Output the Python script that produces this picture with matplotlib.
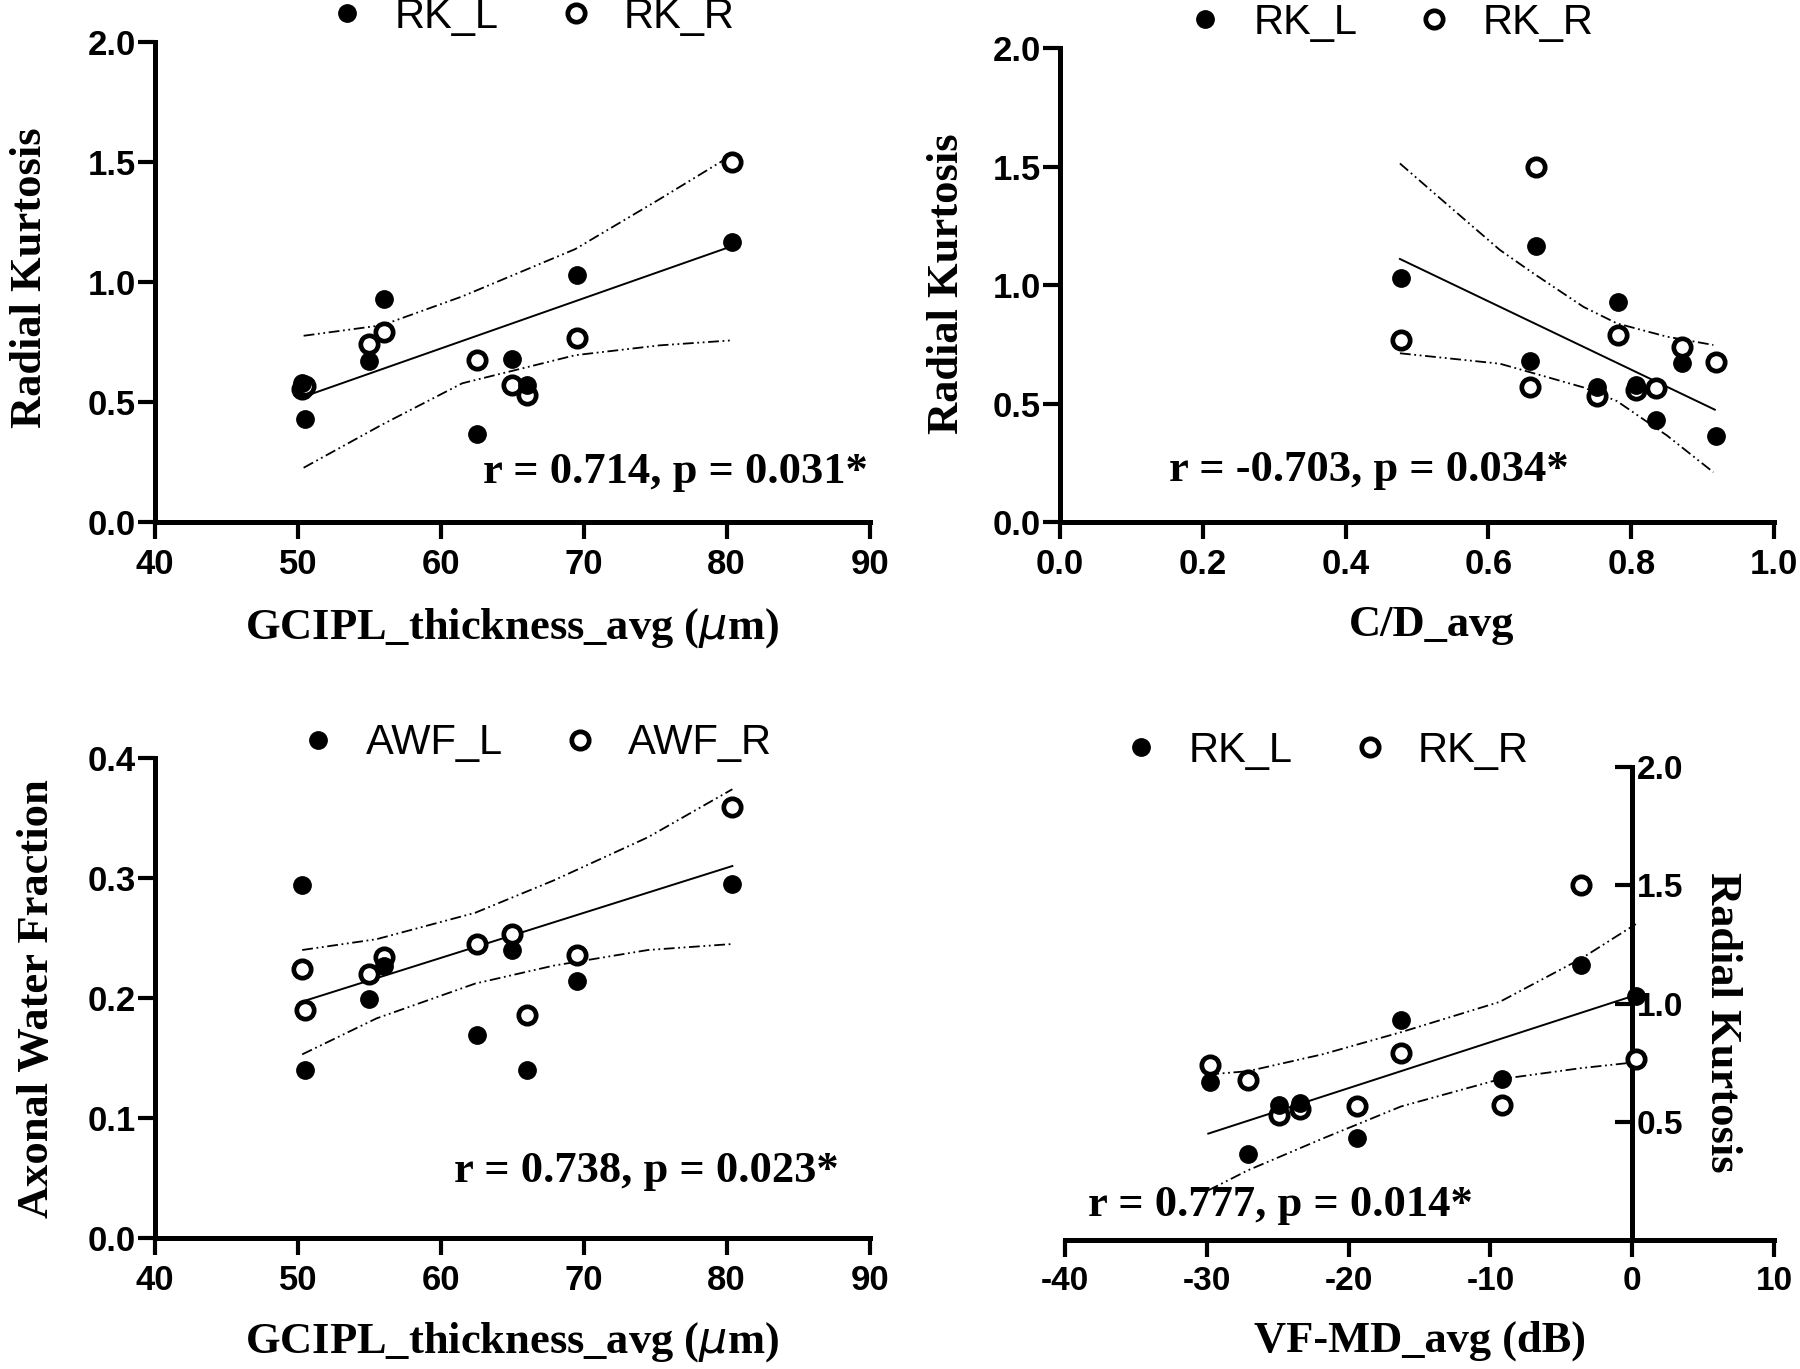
import numpy as np
import matplotlib
matplotlib.use("Agg")
import matplotlib.pyplot as plt
from matplotlib import font_manager
from matplotlib.font_manager import FontProperties

# subjects A..I, same order in every panel
gcipl = [80.4, 69.5, 56.0, 55.0, 65.0, 62.5, 66.0, 50.3, 50.5]
cd_avg = [0.666, 0.477, 0.782, 0.871, 0.658, 0.918, 0.752, 0.806, 0.834]
vfmd = [-3.6, 0.25, -16.3, -29.8, -9.2, -27.1, -24.9, -23.4, -19.4]

rk_l = [1.165, 1.03, 0.93, 0.67, 0.68, 0.365, 0.57, 0.58, 0.43]
rk_r = [1.50, 0.767, 0.79, 0.74, 0.57, 0.675, 0.53, 0.555, 0.566]
awf_l = [0.295, 0.214, 0.227, 0.199, 0.240, 0.169, 0.140, 0.294, 0.140]
awf_r = [0.359, 0.236, 0.234, 0.220, 0.253, 0.245, 0.186, 0.224, 0.190]

# regression lines and 95% bands
fit1_x = [50.3, 80.4]
fit1_y = [0.52, 1.15]
band1_x = [50.4, 55.9, 61.5, 69.4, 75.3, 80.4]
band1_hi = [0.776, 0.82, 0.94, 1.137, 1.345, 1.53]
band1_lo = [0.226, 0.406, 0.578, 0.695, 0.736, 0.757]

fit2_x = [0.476, 0.917]
fit2_y = [1.11, 0.474]
band2_x = [0.476, 0.546, 0.616, 0.663, 0.733, 0.780, 0.850, 0.915]
band2_hi = [1.513, 1.330, 1.148, 1.049, 0.908, 0.838, 0.782, 0.747]
band2_lo = [0.712, 0.690, 0.668, 0.628, 0.568, 0.510, 0.365, 0.210]

fit3_x = [50.3, 80.4]
fit3_y = [0.197, 0.310]
band3_x = [50.3, 55.5, 62.4, 67.9, 74.5, 80.4]
band3_hi = [0.240, 0.249, 0.271, 0.298, 0.334, 0.374]
band3_lo = [0.153, 0.183, 0.212, 0.227, 0.240, 0.245]

fit4_x = [-29.9, 0.25]
fit4_y = [0.45, 1.036]
band4_x = [-29.9, -27.1, -21.8, -16.3, -9.35, -3.6, 0.25]
band4_hi = [0.70, 0.714, 0.786, 0.879, 1.007, 1.19, 1.336]
band4_lo = [0.21, 0.295, 0.43, 0.565, 0.68, 0.727, 0.752]

# the first three panels use a tall, narrow tick font
try:
    font_manager.findfont(FontProperties(family="Liberation Sans Narrow", weight="bold"),
                          fallback_to_default=False)
    narrow_fp = FontProperties(family="Liberation Sans Narrow", weight="bold", size=28)
except ValueError:
    narrow_fp = FontProperties(family="Liberation Sans", weight="bold", size=25)
tick_fp = FontProperties(family="Liberation Sans", weight="bold", size=24)
label_fp = FontProperties(family="Liberation Serif", weight="bold", size=32)
legend_fp = FontProperties(family="Liberation Sans", size=30)

band_ls = (0, (6, 2, 1, 2, 1, 2))


def draw_panel(ax, x, yl, yr, fx, fy, bx, bhi, blo):
    ax.plot(fx, fy, color="black", lw=1.4, zorder=2)
    ax.plot(bx, bhi, color="black", lw=1.3, ls=band_ls, zorder=2)
    ax.plot(bx, blo, color="black", lw=1.3, ls=band_ls, zorder=2)
    hr, = ax.plot(x, yr, ls="none", marker="o", ms=12.5, mfc="white",
                  mec="black", mew=3.4, zorder=3, clip_on=False)
    hl, = ax.plot(x, yl, ls="none", marker="o", ms=12.5, mfc="black",
                  mec="black", zorder=4, clip_on=False)
    return hl, hr


def style(ax, xticks, xlabels, yticks, ylabels):
    ax.set_xticks(xticks)
    ax.set_xticklabels(xlabels)
    ax.set_yticks(yticks)
    ax.set_yticklabels(ylabels)
    ax.tick_params(width=3, length=12, direction="out")
    ax.tick_params(axis="x", pad=7)
    ax.tick_params(axis="y", pad=2)
    ax.spines["top"].set_visible(False)
    ax.spines["right"].set_visible(False)
    for s in ["left", "bottom", "right"]:
        ax.spines[s].set_linewidth(3.6)


def fix_fonts(ax, fp):
    for t in ax.xaxis.get_major_ticks() + ax.yaxis.get_major_ticks():
        t.label1.set_fontproperties(fp)
        t.label2.set_fontproperties(fp)


def add_legend(ax, handles, labels, cx, cy):
    ax.legend(handles, labels, loc="center", bbox_to_anchor=(cx, cy), ncol=2,
              frameon=False, prop=legend_fp, handlelength=0.7,
              handletextpad=0.8, columnspacing=1.5, borderaxespad=0)


fig = plt.figure(figsize=(18, 13.69), dpi=100)

# ---- top left
ax1 = fig.add_axes([0.0861, 0.6187, 0.397, 0.3506])
hl, hr = draw_panel(ax1, gcipl, rk_l, rk_r, fit1_x, fit1_y, band1_x, band1_hi, band1_lo)
ax1.set_xlim(40, 90)
ax1.set_ylim(0, 2.0)
style(ax1, [40, 50, 60, 70, 80, 90], ["40", "50", "60", "70", "80", "90"],
      [0, 0.5, 1.0, 1.5, 2.0], ["0.0", "0.5", "1.0", "1.5", "2.0"])
ax1.set_xlabel("GCIPL_thickness_avg ($\\mu$m)", fontproperties=label_fp)
ax1.set_ylabel("Radial Kurtosis", fontproperties=label_fp)
ax1.xaxis.set_label_coords(0.5, -0.175)
ax1.yaxis.set_label_coords(-0.147, 0.508)
ax1.text(89.9, 0.21, "r = 0.714, p = 0.031*", ha="right", va="center",
         fontproperties=label_fp)
add_legend(ax1, [hl, hr], ["RK_L", "RK_R"], 0.53, 1.052)
fix_fonts(ax1, narrow_fp)

# ---- top right
ax2 = fig.add_axes([0.5889, 0.6187, 0.3967, 0.3462])
hl, hr = draw_panel(ax2, cd_avg, rk_l, rk_r, fit2_x, fit2_y, band2_x, band2_hi, band2_lo)
ax2.set_xlim(0, 1.0)
ax2.set_ylim(0, 2.0)
style(ax2, [0, 0.2, 0.4, 0.6, 0.8, 1.0], ["0.0", "0.2", "0.4", "0.6", "0.8", "1.0"],
      [0, 0.5, 1.0, 1.5, 2.0], ["0.0", "0.5", "1.0", "1.5", "2.0"])
ax2.set_xlabel("C/D_avg", fontproperties=label_fp)
ax2.set_ylabel("Radial Kurtosis", fontproperties=label_fp)
ax2.xaxis.set_label_coords(0.52, -0.175)
ax2.yaxis.set_label_coords(-0.130, 0.502)
ax2.text(0.153, 0.22, "r = -0.703, p = 0.034*", ha="left", va="center",
         fontproperties=label_fp)
add_legend(ax2, [hl, hr], ["RK_L", "RK_R"], 0.465, 1.053)
fix_fonts(ax2, narrow_fp)

# ---- bottom left
ax3 = fig.add_axes([0.0861, 0.0957, 0.397, 0.3506])
hl, hr = draw_panel(ax3, gcipl, awf_l, awf_r, fit3_x, fit3_y, band3_x, band3_hi, band3_lo)
ax3.set_xlim(40, 90)
ax3.set_ylim(0, 0.4)
style(ax3, [40, 50, 60, 70, 80, 90], ["40", "50", "60", "70", "80", "90"],
      [0, 0.1, 0.2, 0.3, 0.4], ["0.0", "0.1", "0.2", "0.3", "0.4"])
ax3.set_xlabel("GCIPL_thickness_avg ($\\mu$m)", fontproperties=label_fp)
ax3.set_ylabel("Axonal Water Fraction", fontproperties=label_fp)
ax3.xaxis.set_label_coords(0.5, -0.17)
ax3.yaxis.set_label_coords(-0.137, 0.498)
ax3.text(87.8, 0.056, "r = 0.738, p = 0.023*", ha="right", va="center",
         fontproperties=label_fp)
add_legend(ax3, [hl, hr], ["AWF_L", "AWF_R"], 0.536, 1.031)
fix_fonts(ax3, narrow_fp)

# ---- bottom right: y axis sits at x = 0
ax4 = fig.add_axes([0.5917, 0.0942, 0.3939, 0.3455])
hl, hr = draw_panel(ax4, vfmd, rk_l, rk_r, fit4_x, fit4_y, band4_x, band4_hi, band4_lo)
ax4.set_xlim(-40, 10)
ax4.set_ylim(0, 2.0)
style(ax4, [-40, -30, -20, -10, 0, 10], ["-40", "-30", "-20", "-10", "0", "10"],
      [0.5, 1.0, 1.5, 2.0], ["0.5", "1.0", "1.5", "2.0"])
ax4.spines["left"].set_visible(False)
ax4.spines["right"].set_visible(True)
ax4.spines["right"].set_position(("data", 0))
ax4.yaxis.tick_right()
ax4.tick_params(axis="y", direction="in", pad=3)
ax4.yaxis.set_label_position("right")
ax4.set_xlabel("VF-MD_avg (dB)", fontproperties=label_fp)
ax4.set_ylabel("Radial Kurtosis", fontproperties=label_fp, rotation=270, va="center")
ax4.xaxis.set_label_coords(0.5, -0.17)
ax4.yaxis.set_label_coords(0.927, 0.461)
ax4.text(-38.4, 0.148, "r = 0.777, p = 0.014*", ha="left", va="center",
         fontproperties=label_fp)
add_legend(ax4, [hl, hr], ["RK_L", "RK_R"], 0.37, 1.034)
fix_fonts(ax4, tick_fp)

fig.savefig("out.png", dpi=100)
